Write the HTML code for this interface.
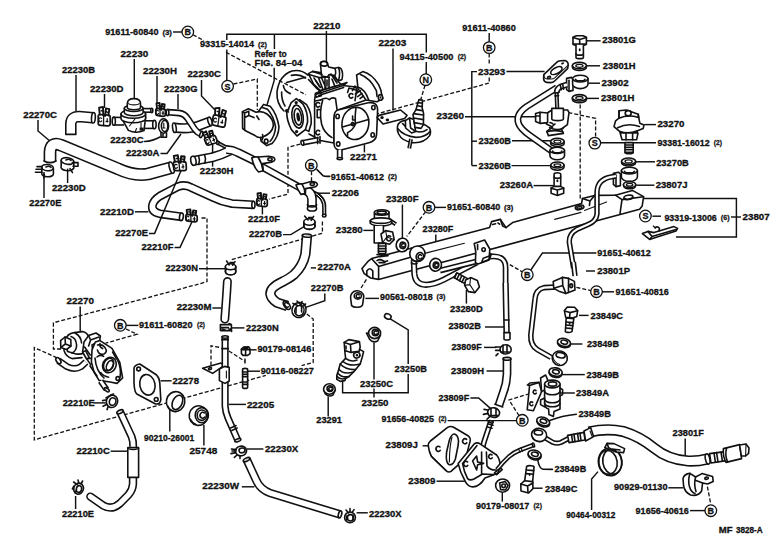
<!DOCTYPE html>
<html><head><meta charset="utf-8"><title>Fuel injection system diagram</title>
<style>
html,body{margin:0;padding:0;background:#fff}
svg{display:block}
text{font-family:"Liberation Sans",sans-serif;font-weight:bold;fill:#111;stroke:#111;stroke-width:0.3px;stroke-linejoin:round}
.ln{stroke:#111;stroke-width:1.45;fill:none}
.o{stroke:#111;stroke-width:1.6;fill:#fff;stroke-linejoin:round;stroke-linecap:round}
.n{stroke:#111;stroke-width:1.6;fill:none;stroke-linejoin:round;stroke-linecap:round}
.t{stroke:#111;stroke-width:1.1;fill:none;stroke-linejoin:round;stroke-linecap:round}
.d{stroke:#111;stroke-width:1.3;fill:none;stroke-dasharray:4 2}
.k{fill:#111;stroke:none}
.hb{stroke:#111;fill:none;stroke-linejoin:round}
.hw{stroke:#fff;fill:none;stroke-linejoin:round}
</style></head><body>
<svg width="782" height="560" viewBox="0 0 782 560">
<rect width="782" height="560" fill="#fff"/>
<!-- r1.svg -->
<line x1="173.0" y1="32.0" x2="182.5" y2="32.0" class="ln"/>
<line x1="134.3" y1="59.0" x2="134.3" y2="99.0" class="ln"/>
<line x1="76.0" y1="75.0" x2="76.0" y2="111.0" class="ln"/>
<line x1="157.0" y1="76.0" x2="157.0" y2="103.0" class="ln"/>
<line x1="104.5" y1="94.0" x2="104.5" y2="108.0" class="ln"/>
<line x1="178.0" y1="94.0" x2="178.0" y2="109.0" class="ln"/>
<polyline points="201.5,80.0 201.5,96.0 215.0,110.0" class="ln"/>
<polyline points="38.0,120.0 38.0,131.0 51.0,142.0" class="ln"/>
<path d="M144.5 141.5 Q153 141 160 137" class="n"/>
<polyline points="160.5,153.5 167.0,153.5 181.0,134.0" class="ln"/>
<line x1="67.6" y1="168.6" x2="67.6" y2="183.0" class="ln"/>
<line x1="44.0" y1="172.0" x2="44.0" y2="198.0" class="ln"/>
<line x1="193.0" y1="34.8" x2="204.0" y2="40.6" class="d"/>
<line x1="226.0" y1="52.3" x2="306.0" y2="94.8" class="d"/>
<path d="M70.8 134.5 V124 Q71 116.5 79 116.5 L93 117.8" class="hb" stroke-width="11.6" stroke-linecap="butt"/><path d="M70.8 134.5 V124 Q71 116.5 79 116.5 L93 117.8" class="hw" stroke-width="8.4" stroke-linecap="butt"/>
<ellipse cx="93.4" cy="117.8" rx="1.9" ry="5.2" class="o" transform="rotate(4.0 93.4 117.8)"/>
<line x1="65.8" y1="134.4" x2="75.8" y2="134.4" class="n"/>
<g transform="translate(104.2 116.4) rotate(0.0)"><path d="M-6.0 0.1 Q-6.0 -1.9 -4.0 -1.9 L4.0 -1.3 Q6.0 -1.3 6.0 0.7 L6.0 7.1 Q6.0 9.5 3.6 9.5 L-3.6 8.9 Q-6.0 8.9 -6.0 6.5 z" class="o" style="stroke-width:1.7"/><path d="M-0.6 -1.5 V9.1" class="n" style="stroke-width:1.3"/><path d="M-2.7 1.9 a1.6 2 0 1 0 0.2 2.6 M3.0 2.3 v3.4 M1.8 4.9 h2" class="n" style="stroke-width:1.2"/><path d="M-4.5 -1.9 L-5.1 -8.7 L-1.2 -9.5 L-0.9 -0.9 M0.9 -0.4 L1.8 -8.0 L5.1 -7.2 L4.2 -0.9" class="n" style="stroke-width:1.9"/><path d="M-3.0 -5.7 L-0.6 -5.3 M1.8 -4.8 L4.2 -3.8" class="n" style="stroke-width:1.4"/></g>
<path d="M113.5 121.2 H124" class="hb" stroke-width="9.2" stroke-linecap="butt"/><path d="M113.5 121.2 H124" class="hw" stroke-width="6.0" stroke-linecap="butt"/>
<ellipse cx="113.8" cy="121.2" rx="1.6" ry="4.1" class="o"/>
<path d="M143 124.6 H154.6" class="hb" stroke-width="9.2" stroke-linecap="butt"/><path d="M143 124.6 H154.6" class="hw" stroke-width="6.0" stroke-linecap="butt"/>
<ellipse cx="154.4" cy="124.6" rx="1.7" ry="4.2" class="o"/>
<path d="M140 110.4 H151.6" class="hb" stroke-width="5.2" stroke-linecap="butt"/><path d="M140 110.4 H151.6" class="hw" stroke-width="2.0" stroke-linecap="butt"/>
<ellipse cx="151.8" cy="110.4" rx="1.0" ry="2.2" class="o"/>
<path d="M121.5 118 L128.4 130.4 Q136 134 144 130.6 L145.6 117z" class="o"/>
<path d="M121 114 v4.5 a12.3 4.2 0 0 0 24.6 0 v-4.5z" class="o"/>
<ellipse cx="133.3" cy="114.0" rx="12.3" ry="4.2" class="o"/>
<path d="M124.3 108.3 v4.2 a9.4 3.2 0 0 0 18.8 0 v-4.2z" class="o"/>
<ellipse cx="133.7" cy="108.3" rx="9.4" ry="3.2" class="o"/>
<path d="M127.3 107.5 V103.5 Q127.5 98.6 133.9 98.6 Q140.4 98.6 140.5 103.5 V107.5 a6.6 2.2 0 0 1 -13.2 0z" class="o"/>
<path d="M128.6 103.3 a5.3 1.6 0 0 0 10.6 0" class="t"/>
<path d="M129.5 126 l5.5 -7 M141 128 v-5 M135 132.5 l1.5 -4" class="t"/>
<path d="M139.6 127.6 h4 v3 h-4z" class="k"/>
<g transform="translate(160.6 109.6) rotate(0.0)"><path d="M-4.8 0.7 Q-4.8 -1.3 -2.8 -1.3 L2.8 -0.7 Q4.8 -0.7 4.8 1.3 L4.8 4.3 Q4.8 6.7 2.4 6.7 L-2.4 6.1 Q-4.8 6.1 -4.8 3.7 z" class="o" style="stroke-width:1.7"/><path d="M-0.6 -0.9 V6.3" class="n" style="stroke-width:1.3"/><path d="M-2.2 1.3 a1.6 2 0 1 0 0.2 2.6 M2.4 1.6 v3.4 M1.4 3.5 h2" class="n" style="stroke-width:1.2"/><path d="M-3.6 -1.3 L-4.1 -6.2 L-1.0 -6.7 L-0.7 -0.3 M0.7 0.2 L1.4 -5.6 L4.1 -5.1 L3.4 -0.3" class="n" style="stroke-width:1.9"/><path d="M-2.4 -4.0 L-0.5 -3.8 M1.4 -3.4 L3.4 -2.7" class="n" style="stroke-width:1.4"/></g>
<ellipse cx="163.6" cy="126.0" rx="5.0" ry="7.2" class="o"/>
<ellipse cx="164.6" cy="126.0" rx="3.2" ry="5.6" class="n"/>
<path d="M161 132.5 v4.8 h5.5 v-4.5 M163 134 v2" class="n"/>
<path d="M163.8 123 v5 M162.8 128 h2.2" class="t"/>
<path d="M174.2 127.6 Q189 129.6 198 126 L210 121.4" class="hb" stroke-width="10.2" stroke-linecap="butt"/><path d="M174.2 127.6 Q189 129.6 198 126 L210 121.4" class="hw" stroke-width="7.0" stroke-linecap="butt"/>
<ellipse cx="174.4" cy="127.8" rx="1.8" ry="4.8" class="o" transform="rotate(-8.0 174.4 127.8)"/>
<ellipse cx="210.0" cy="121.4" rx="1.9" ry="4.4" class="o" transform="rotate(-18.0 210.0 121.4)"/>
<path d="M168 112.2 L179 113 Q184.6 113.6 188 119 L194.6 129 Q197 132.6 201.4 134.2" class="hb" stroke-width="6.8" stroke-linecap="butt"/><path d="M168 112.2 L179 113 Q184.6 113.6 188 119 L194.6 129 Q197 132.6 201.4 134.2" class="hw" stroke-width="3.6" stroke-linecap="butt"/>
<ellipse cx="167.6" cy="112.6" rx="1.3" ry="3.2" class="o"/>
<ellipse cx="201.3" cy="134.5" rx="1.4" ry="3.2" class="o" transform="rotate(20.0 201.3 134.5)"/>
<g transform="translate(219.6 117.4) rotate(8.0)"><path d="M-6.5 0.1 Q-6.5 -1.9 -4.5 -1.9 L4.5 -1.3 Q6.5 -1.3 6.5 0.7 L6.5 6.9 Q6.5 9.3 4.1 9.3 L-4.1 8.7 Q-6.5 8.7 -6.5 6.3 z" class="o" style="stroke-width:1.7"/><path d="M-0.6 -1.5 V8.9" class="n" style="stroke-width:1.3"/><path d="M-2.9 1.9 a1.6 2 0 1 0 0.2 2.6 M3.2 2.2 v3.4 M1.9 4.8 h2" class="n" style="stroke-width:1.2"/><path d="M-4.9 -1.9 L-5.5 -8.6 L-1.3 -9.3 L-1.0 -0.9 M1.0 -0.4 L1.9 -7.8 L5.5 -7.1 L4.5 -0.9" class="n" style="stroke-width:1.9"/><path d="M-3.2 -5.6 L-0.7 -5.2 M1.9 -4.7 L4.5 -3.7" class="n" style="stroke-width:1.4"/></g>
<g transform="translate(209.8 137.6) rotate(-22.0)"><path d="M-5.7 0.6 Q-5.7 -1.4 -3.7 -1.4 L3.7 -0.8 Q5.7 -0.8 5.7 1.2 L5.7 4.8 Q5.7 7.2 3.3 7.2 L-3.3 6.6 Q-5.7 6.6 -5.7 4.2 z" class="o" style="stroke-width:1.7"/><path d="M-0.6 -1.0 V6.8" class="n" style="stroke-width:1.3"/><path d="M-2.6 1.4 a1.6 2 0 1 0 0.2 2.6 M2.9 1.7 v3.4 M1.7 3.7 h2" class="n" style="stroke-width:1.2"/><path d="M-4.3 -1.4 L-4.8 -6.6 L-1.1 -7.2 L-0.9 -0.4 M0.9 0.1 L1.7 -6.0 L4.8 -5.5 L4.0 -0.4" class="n" style="stroke-width:1.9"/><path d="M-2.9 -4.3 L-0.6 -4.0 M1.7 -3.6 L4.0 -2.9" class="n" style="stroke-width:1.4"/></g>
<path d="M50 161.4 V152 Q50.6 141.2 61 145.2 L118 168.8 Q134 176.4 148 174 L171.6 167.6" class="hb" stroke-width="12.8" stroke-linecap="butt"/><path d="M50 161.4 V152 Q50.6 141.2 61 145.2 L118 168.8 Q134 176.4 148 174 L171.6 167.6" class="hw" stroke-width="9.6" stroke-linecap="butt"/>
<ellipse cx="171.6" cy="167.6" rx="2.1" ry="5.8" class="o" transform="rotate(-16.0 171.6 167.6)"/>
<path d="M44 161 q6 3.6 12 0" class="n"/>
<ellipse cx="67.5" cy="161.0" rx="6.4" ry="3.3" class="o" transform="rotate(8.0 67.5 161.0)"/>
<path d="M61.2 160.4 v6 a6.4 3.3 0 0 0 12.6 1.8 v-6.2" class="n"/>
<path d="M72.4 162.6 h5.6 v3.6 h-5 M70 168.6 l2.5 4 M66 160 q3 -1.6 5 0.4" class="n"/>
<ellipse cx="47.5" cy="167.6" rx="5.8" ry="3.1" class="o" transform="rotate(5.0 47.5 167.6)"/>
<path d="M41.8 167.4 v5.8 a5.8 3.1 0 0 0 11.6 0.8 v-5.8" class="n"/>
<path d="M42 169.2 h-6 M42 172.2 h-6.6 M37 166.6 h5 M44 174 v4 M46 167 q3 -1.6 5 0.4" class="n"/>
<!-- r2.svg -->
<polyline points="226.8,80.5 226.8,49.5" class="ln"/>
<polyline points="226.8,40.0 226.8,34.3 426.3,34.3 426.3,52.5" class="ln"/>
<line x1="426.3" y1="62.0" x2="426.2" y2="74.3" class="ln"/>
<line x1="274.4" y1="34.3" x2="274.4" y2="49.0" class="ln"/>
<polyline points="274.2,67.8 274.2,80.5 267.0,105.0" class="ln"/>
<line x1="326.4" y1="31.0" x2="326.4" y2="62.5" class="ln"/>
<line x1="393.0" y1="48.5" x2="393.0" y2="110.5" class="ln"/>
<polyline points="233.5,84.0 257.3,79.0 257.3,110.0" class="d"/>
<line x1="425.0" y1="85.3" x2="420.8" y2="99.5" class="d"/>
<line x1="489.2" y1="33.0" x2="489.2" y2="42.3" class="ln"/>
<line x1="489.2" y1="53.6" x2="489.2" y2="65.6" class="d"/>
<polyline points="489.2,77.4 489.2,83.0 376.5,114.0" class="d"/>
<path d="M263.6 104.4 L270.2 106.2 Q277 114 279 126.8 Q278.5 137 272 143.6 L266.8 145.6 L261 141 L258 112z" class="o"/>
<path d="M262.3 107.5 L267.5 109.3 Q273.6 116 275.6 127 Q275 136 270 141.5" class="n"/>
<path d="M242.4 111.6 L248.4 108.8 L256 112.2 Q262 110.5 267 114 Q273.6 119 273.3 126 Q272 133.5 262.6 137 Q258 138.5 255 135.5 L246 131 L242.6 128.5z" class="o"/>
<path d="M242.6 112 L244.6 113 V129.6 M244.6 113 L248.8 111.2 V115.6 L254 117.6 M248.8 115.6 L244.8 117.4 M256.8 116 L259 119.5" class="n"/>
<ellipse cx="266.2" cy="141.2" rx="1.8" ry="2.1" class="o"/>
<path d="M262.6 134.6 Q263.4 137.8 262 140" class="n"/>
<path d="M308 75.2 Q301 69 292 71 Q279 75.5 277 92 Q276.4 104 284 111" class="n"/>
<path d="M305.5 78 Q299 73.6 291.4 75.4" class="n"/>
<path d="M283.4 85.6 Q284 91 290 93.4 M286.6 82.6 L305.5 77.2" class="n"/>
<ellipse cx="286.6" cy="110.8" rx="1.6" ry="1.9" class="k"/>
<path d="M281.6 92 Q281.4 100 285 106" class="n"/>
<path d="M288.6 93.6 l2.2 -1.2 l-0.4 2.4z" class="k"/>
<path d="M315.4 94.5 L343 85.5 L360 87.5 L366 100 L338 110 L334 118 V143 L320 140.5 L314.6 137 V100z" class="o"/>
<path d="M315.4 94.5 L319.6 91 L347 82.5 L343 85.5 M319.8 91 L317 88.6 L308.5 79.5" class="n"/>
<path d="M320.5 100 Q326 96.6 329.4 99.6 Q332 97 335.5 98.4 L337 109.4" class="n"/>
<path d="M322.6 100.6 Q319 112 321.6 124 Q324 133 332 137.6" class="n"/>
<path d="M315 101 L320.5 100 M314.6 137 L309 134 M318.6 95.6 L343.6 87.6 M315.4 93.2 l5.4 -1.4 l0.6 4 l-5.4 1.4z" class="n"/>
<path d="M319.6 103.3 a2.1 2.3 0 1 0 0 3" class="n"/>
<path d="M319.6 131.1 a2.1 2.3 0 1 0 0 3" class="n"/>
<path d="M352.8 94.3 a2.1 2.3 0 1 0 0 3" class="n"/>
<path d="M319.6 109.6 h-2.4 v8 h2.4" class="n"/>
<path d="M308.4 73.6 L312.6 71.4 L320 72.6 L329.6 72 L334 76.6 L341 84.5 L333 86.8 L320 90.4 L313.6 84z" class="o"/>
<path d="M320.4 63.6 a3.6 2.6 0 0 1 7.2 0.4 L328.6 67 L335 68.4 Q338.6 66.6 341 68.6 Q343.6 73 342 79.4 Q339.6 81.6 336.6 79 L334.6 75.6 L329 74.6 L327.4 77 L321.6 76z" class="o"/>
<ellipse cx="324.0" cy="63.8" rx="3.5" ry="2.3" class="n" transform="rotate(6.0 324.0 63.8)"/>
<path d="M335 68.4 Q336.6 74 334.6 75.6 M338.6 67.6 Q340.6 73 338.6 80" class="n"/>
<path d="M309 74.6 L319 77.6 L329.4 77 M312.6 71.4 L322 74.6 M318.6 78 L322.6 88.6 M321.6 78 L326 88 M325 77.6 V88.6 M329 77.4 V87.6 M332 79 l3 7.6 M314 78 l6.4 9.4" class="n"/>
<path d="M316 81 l3.6 5.6 M327 80 v6 M331 74 l6 9" class="n"/>
<path d="M356.6 75 L362.8 71.6 Q372 74 378.6 84.6 Q381.4 90 381.8 95 L383 98.6 L377 101.8 L366 100 L358 88.6z" class="o"/>
<path d="M360.4 74.6 Q370 78 376.4 90.6 L377 96.4 M357.6 87 Q365 89 368.6 99.8" class="n"/>
<ellipse cx="380.4" cy="97.4" rx="2.1" ry="2.8" class="o"/>
<ellipse cx="380.4" cy="97.4" rx="0.8" ry="1.2" class="k"/>
<path d="M352.4 90.6 L355 86 L358 92 M355.4 94 l5 -3.4 M357.6 96.6 l4.4 -3.2 M360 98.6 l3.4 -2.6" class="n"/>
<path d="M347.6 92.4 L349 88 L356.6 90.2 L355 100.6" class="n"/>
<path d="M296.4 98.6 L302.8 103.8 Q308 112 307.6 122 L305.4 129.6 L297 136 L291.4 129.6 Q286.6 120 286.8 112.8 L291.2 102.6z" class="o"/>
<path d="M299.6 99.6 L306.6 104.6 Q312 113 311.2 123.6 L308.8 131.4 L305.4 129.6" class="n"/>
<ellipse cx="297.6" cy="116.6" rx="5.6" ry="11.6" class="o" transform="rotate(-8.0 297.6 116.6)"/>
<ellipse cx="297.9" cy="116.8" rx="3.6" ry="8.4" class="o" transform="rotate(-8.0 297.9 116.8)"/>
<ellipse cx="298.2" cy="117.0" rx="1.7" ry="4.6" class="k" transform="rotate(-8.0 298.2 117.0)"/>
<ellipse cx="296.2" cy="102.6" rx="0.9" ry="0.9" class="o"/>
<ellipse cx="296.6" cy="131.6" rx="0.9" ry="0.9" class="o"/>
<path d="M288.6 109.4 l-1.6 1.4 l1.4 1.2" class="n"/>
<path d="M302.4 142.8 L319 139.6" class="hb" stroke-width="5.8" stroke-linecap="butt"/><path d="M302.4 142.8 L319 139.6" class="hw" stroke-width="2.6" stroke-linecap="butt"/>
<ellipse cx="302.4" cy="142.8" rx="1.4" ry="2.4" class="o" transform="rotate(-10.0 302.4 142.8)"/>
<path d="M317.6 137.2 v6.4 M320 136.6 v6.6" class="n"/>
<polyline points="300.2,144.2 288.0,147.4 288.0,183.0" class="d"/>
<path d="M338 110 L368.2 102.8 Q377.4 101.4 377.6 110 L376.6 134.4 Q376.2 141 369 142.8 L342 149.8 Q334.4 150.8 334 144 V118 Q334 111 338 110z" class="o"/>
<ellipse cx="355.4" cy="123.4" rx="13.4" ry="16.2" class="o" transform="rotate(8.0 355.4 123.4)"/>
<ellipse cx="337.6" cy="116.4" rx="1.7" ry="2.1" class="o"/>
<ellipse cx="373.4" cy="107.6" rx="1.7" ry="2.1" class="o"/>
<ellipse cx="338.2" cy="144.0" rx="1.7" ry="2.1" class="o"/>
<ellipse cx="372.7" cy="134.9" rx="1.7" ry="2.1" class="o"/>
<path d="M342.4 127 L368.6 119.6 M356 107.6 Q354.6 118 355.6 124 Q353 130 347.6 132.6 L347.4 137" class="n"/>
<path d="M352.6 116 v4 h2.4 M352.6 122.6 a1.5 1.5 0 1 0 0.1 0" class="n"/>
<path d="M339.8 149.6 V158.6" class="hb" stroke-width="6.0" stroke-linecap="butt"/><path d="M339.8 149.6 V158.6" class="hw" stroke-width="2.8" stroke-linecap="butt"/>
<ellipse cx="339.8" cy="158.6" rx="2.7" ry="1.1" class="o"/>
<line x1="364.4" y1="144.4" x2="364.4" y2="152.4" class="ln"/>
<path d="M377 117.4 L379 115.4 L400.6 110 L407 115.4 L404.6 118.4 L383 124z" class="o"/>
<ellipse cx="382.0" cy="117.6" rx="1.0" ry="0.7" class="o"/>
<ellipse cx="387.4" cy="120.0" rx="1.0" ry="0.6" class="o"/>
<path d="M397.4 127 Q398 121 406 120.4 Q420 120.6 429.6 128 Q431.4 131.6 429.6 135.6 Q424 143.6 412 142.6 Q402 141 398.6 134 Q397 130.6 397.4 127z" class="o"/>
<path d="M397.6 128.6 Q404 136.4 416 137.4 Q425.6 137.4 430 131.6 M402.6 123.6 Q408 130.6 419 132 Q424 132 427 129.6" class="n"/>
<path d="M411 139 L409.2 148.4" class="hb" stroke-width="4.0" stroke-linecap="butt"/><path d="M411 139 L409.2 148.4" class="hw" stroke-width="0.8" stroke-linecap="butt"/>
<path d="M405.4 120.6 L409.6 118 L414 119.6 L415.6 131.6 L411.6 133 L405.6 128z" class="o"/>
<path d="M419 99.6 L422.4 100 L422.2 108 L423.6 113.6 L423.4 124.6 L421 128.4 L415 127.4 L413 114.6 L416 109.6 L417.6 104z" class="o"/>
<path d="M418.4 102.6 l4 0.6 M417.4 105.8 l4.8 0.8 M416 109.6 l6.4 1 M413.6 113.6 l9.8 1.4 M413.4 118 l10 1.6 M414 122.6 l9.4 1.6" class="n"/>
<path d="M409.6 118 l1 10 l5 3.4" class="n"/>
<!-- r3.svg -->
<line x1="586.8" y1="40.8" x2="600.6" y2="40.8" class="ln"/>
<line x1="587.0" y1="65.8" x2="600.0" y2="65.8" class="ln"/>
<line x1="588.4" y1="83.2" x2="600.0" y2="83.2" class="ln"/>
<line x1="587.0" y1="98.4" x2="599.0" y2="98.4" class="ln"/>
<line x1="644.4" y1="124.6" x2="656.0" y2="124.6" class="ln"/>
<polyline points="471.8,165.6 471.8,71.6 477.0,71.6" class="ln"/>
<line x1="471.8" y1="141.2" x2="477.0" y2="141.2" class="ln"/>
<line x1="471.8" y1="165.6" x2="477.0" y2="165.6" class="ln"/>
<line x1="506.4" y1="71.4" x2="544.6" y2="71.4" class="ln"/>
<line x1="465.0" y1="116.8" x2="535.6" y2="116.8" class="ln"/>
<line x1="512.0" y1="140.8" x2="550.6" y2="140.8" class="ln"/>
<line x1="512.0" y1="165.6" x2="550.2" y2="165.6" class="t"/>
<line x1="533.6" y1="185.6" x2="553.6" y2="185.6" class="ln"/>
<line x1="600.8" y1="142.8" x2="656.0" y2="142.8" class="ln"/>
<line x1="636.0" y1="161.8" x2="655.0" y2="161.8" class="ln"/>
<line x1="636.4" y1="185.2" x2="654.4" y2="185.2" class="ln"/>
<line x1="580.2" y1="104.6" x2="580.2" y2="200.6" class="d"/>
<polyline points="568.4,112.6 595.6,118.4 595.6,137.2" class="d"/>
<path d="M557 87.6 L527 106.4 Q515.6 114 518.4 123 Q520 128.6 530 135.6 L552.6 151.6" class="hb" stroke-width="7.0" stroke-linecap="butt"/><path d="M557 87.6 L527 106.4 Q515.6 114 518.4 123 Q520 128.6 530 135.6 L552.6 151.6" class="hw" stroke-width="3.8" stroke-linecap="butt"/>
<path d="M543.8 74.6 L556.4 62.6 Q558 61 560.4 60.8 L565 60.6 Q568.4 61.6 568.2 65.4 L567.6 68.6 L554.6 81 Q553 82.6 550.6 82.6 L546.6 82.4 Q543.6 81.6 543.6 78.6z" class="o"/>
<path d="M543.8 75 Q544 78.6 547 79 L551.4 79 Q553.4 79 555 77.6 L568 65.4" class="t"/>
<ellipse cx="556.4" cy="70.6" rx="6.2" ry="3.0" class="o" transform="rotate(-28.0 556.4 70.6)"/>
<ellipse cx="562.6" cy="63.4" rx="1.6" ry="1.0" class="k" transform="rotate(-20.0 562.6 63.4)"/>
<ellipse cx="549.0" cy="77.4" rx="1.6" ry="1.0" class="o" transform="rotate(-20.0 549.0 77.4)"/>
<path d="M573.0 37.3 L576.4 35.8 L583.1 35.8 L586.4 37.3 L586.4 44.0 L573.0 44.0 z" class="o"/>
<path d="M573.0 37.6 L579.7 39.4 L586.4 37.6 M579.7 39.4 V44.0" class="n"/>
<path d="M573.0 44.0 a6.7 1.6 0 0 0 13.4 0" class="n"/>
<path d="M576.0 45.0 V57.4 a3.7 1.2 0 0 0 7.4 0 V45.0" class="o"/>
<ellipse cx="579.7" cy="49.7" rx="1.0" ry="1.5" class="k"/>
<path d="M576.0 53.9 a3.7 1.2 0 0 0 7.4 0" class="n"/>
<g><path d="M572.4 65.6 v1.6 a7.0 3.2 0 0 0 14.0 0 v-1.6" class="o"/><ellipse cx="579.4" cy="65.6" rx="7.0" ry="3.2" class="o"/><ellipse cx="579.4" cy="65.8" rx="3.6" ry="1.5" class="o" style="stroke-width:1.3"/></g>
<g><path d="M572.4 97.8 v1.6 a7.0 3.2 0 0 0 14.0 0 v-1.6" class="o"/><ellipse cx="579.4" cy="97.8" rx="7.0" ry="3.2" class="o"/><ellipse cx="579.4" cy="98.0" rx="3.6" ry="1.5" class="o" style="stroke-width:1.3"/></g>
<path d="M566.6 78.4 L571.4 77.4 L573 79 V90.4 L569 91.4 L566.6 89.6z" class="o"/>
<path d="M569 80.2 V91.2" class="n"/>
<path d="M572.6 78.6 v5.6 a7.7 4.4 0 0 0 15.4 0 v-5.6 z" class="o"/>
<ellipse cx="580.3" cy="78.6" rx="7.7" ry="3.4" class="o"/>
<path d="M575.5 79.2 a4.8 2.0 0 0 0 9.5 0" class="n"/>
<path d="M567 84.6 L560.6 86.6 Q556.6 88.6 556.8 93" class="hb" stroke-width="6.0" stroke-linecap="butt"/><path d="M567 84.6 L560.6 86.6 Q556.6 88.6 556.8 93" class="hw" stroke-width="2.8" stroke-linecap="butt"/>
<path d="M562.6 83.8 l1 5.4 M560.2 84.8 l1.2 5" class="n"/>
<path d="M556.6 92.6 L557.2 108.6" class="hb" stroke-width="4.2" stroke-linecap="butt"/><path d="M556.6 92.6 L557.2 108.6" class="hw" stroke-width="1.0" stroke-linecap="butt"/>
<path d="M555 93 l3.6 -0.4 M555 96 l3.6 -0.4" class="n"/>
<path d="M546 113.8 L552 110 L567.6 110 L569 112.4 L567.4 124.6 L561.4 129 L563.4 133.4 L548.4 135.6 L546.8 131.4 L552.6 127 L546.4 124z" class="o"/>
<path d="M551.8 108.4 H563.4 V119 a5.8 1.6 0 0 1 -11.6 0z" class="o"/>
<path d="M535.6 113.4 L540 112.2 L547.6 113 V122.6 L540.4 123.4 L535.6 121.4z" class="o"/>
<path d="M540 112.4 V123.2 M535.6 116 h4.4" class="n"/>
<path d="M549.6 127.6 Q556 131 563 128.4 M550 122.6 l2.6 1 M553 125.4 l2 -1.4" class="n"/>
<path d="M547 131.6 Q555 129.6 562.6 131.8" class="n"/>
<g><path d="M550.7 141.4 v2.0 a6.7 3.1 0 0 0 13.4 0 v-2.0" class="o"/><ellipse cx="557.4" cy="141.4" rx="6.7" ry="3.1" class="o"/><ellipse cx="557.4" cy="141.6" rx="3.5" ry="1.5" class="o" style="stroke-width:1.3"/></g>
<path d="M549.9 150.4 v5.4 a7.3 4.0 0 0 0 14.6 0 v-5.4 z" class="o"/>
<ellipse cx="557.2" cy="150.4" rx="7.3" ry="3.1" class="o"/>
<path d="M552.7 151.0 a4.5 1.9 0 0 0 9.1 0" class="n"/>
<g><path d="M550.8 165.0 v2.2 a6.6 3.0 0 0 0 13.2 0 v-2.2" class="o"/><ellipse cx="557.4" cy="165.0" rx="6.6" ry="3.0" class="o"/><ellipse cx="557.4" cy="165.2" rx="3.4" ry="1.4" class="o" style="stroke-width:1.3"/></g>
<path d="M554.1 186.4 V174.0 a3.3 1.2 0 0 1 6.6 0 V186.4" class="o"/>
<ellipse cx="557.4" cy="180.8" rx="1.0" ry="1.5" class="k"/>
<path d="M554.1 177.1 a3.3 1.2 0 0 0 6.6 0" class="n"/>
<path d="M551.1 187.9 L554.2 186.4 L560.5 186.4 L563.7 187.9 L563.7 193.3 L557.4 195.4 L551.1 193.3 z" class="o"/>
<path d="M551.1 188.2 L557.4 190.0 L563.7 188.2 M557.4 190.0 V195.2" class="n"/>
<path d="M619 110.8 L626.4 110 L638.2 114.2 L639.8 123.2 L644 125 L643.2 128.4 L637.4 130.8 L637 133 H620.6 L619.8 131.6 L614 126.6 L615.6 120.8 L619 118.2z" class="o"/>
<path d="M619 118.2 Q628 114.2 638.4 117.4 M617.6 127.8 Q628 122.4 639.4 126.4 M620 131.6 Q628.6 134.6 637.4 130.8 M619 110.8 V118 M638.2 114.2 l0.4 3.4" class="n"/>
<ellipse cx="628.2" cy="113.2" rx="3.0" ry="2.6" class="o"/>
<path d="M620.2 133 H638 L636.6 139.8 H622z" class="o"/>
<path d="M626 133.4 v6.4 M632.6 133.4 v6.4" class="n"/>
<path d="M625 142.6 h8.2 v10 a4.1 1.2 0 0 1 -8.2 0z" class="o"/>
<path d="M625 145 h8.2 M625 147.4 h8.2 M625 149.8 h8.2 M625 152.2 h8.2" class="n"/>
<g><path d="M621.6 161.2 v1.6 a7.0 3.2 0 0 0 14.0 0 v-1.6" class="o"/><ellipse cx="628.6" cy="161.2" rx="7.0" ry="3.2" class="o"/><ellipse cx="628.6" cy="161.4" rx="3.6" ry="1.5" class="o" style="stroke-width:1.3"/></g>
<path d="M613.4 173.4 L618.4 172.2 L620.4 174 V185.6 L616 186.6 L613.4 184.4z" class="o"/>
<path d="M616 175 V186.4" class="n"/>
<path d="M621.4 170.6 v6.4 a8.0 4.4 0 0 0 16.0 0 v-6.4 z" class="o"/>
<ellipse cx="629.4" cy="170.6" rx="8.0" ry="3.4" class="o"/>
<path d="M624.4 171.2 a5.0 2.0 0 0 0 9.9 0" class="n"/>
<g><path d="M623.5 184.6 v1.2 a6.1 3.0 0 0 0 12.2 0 v-1.2" class="o"/><ellipse cx="629.6" cy="184.6" rx="6.1" ry="3.0" class="o"/><ellipse cx="629.6" cy="184.8" rx="3.2" ry="1.4" class="o" style="stroke-width:1.3"/></g>
<!-- r4.svg -->
<line x1="363.4" y1="230.4" x2="373.4" y2="230.4" class="ln"/>
<line x1="402.4" y1="204.6" x2="402.4" y2="238.4" class="ln"/>
<line x1="435.8" y1="234.4" x2="435.8" y2="258.6" class="ln"/>
<line x1="434.6" y1="207.4" x2="446.0" y2="207.4" class="ln"/>
<line x1="425.6" y1="211.8" x2="406.8" y2="236.4" class="d"/>
<polyline points="596.4,253.0 542.4,253.0 530.8,270.0" class="ln"/>
<line x1="586.0" y1="271.0" x2="595.0" y2="271.0" class="ln"/>
<line x1="602.0" y1="291.8" x2="614.0" y2="291.8" class="ln"/>
<line x1="652.4" y1="216.2" x2="661.0" y2="216.2" class="ln"/>
<line x1="653.0" y1="225.6" x2="656.6" y2="229.4" class="d"/>
<polyline points="643.6,198.4 736.4,198.4 736.4,237.0 676.0,237.0" class="ln"/>
<line x1="731.0" y1="217.0" x2="741.0" y2="217.0" class="ln"/>
<line x1="483.8" y1="249.6" x2="522.6" y2="272.0" class="d"/>
<path d="M371.6 258.6 L489.6 227.6 L491.6 221.6 L500.4 219.4 L506 227.6 L512.6 222.6 L581.6 203.4 L582.4 198.6 L594.6 195.4 L615.4 195.2 L632.4 190.4 L643.6 196.6 L642.2 206 L639.6 209.2 L378.6 279.4 L370.6 278 L364.2 273.6 L362 268.6 L368.6 260.8z" class="o"/>
<path d="M372.1 259.3 L378.6 266.4 V279.2 M378.6 266.4 L411.4 257" class="n"/>
<path d="M500.4 219.4 L502.6 226 L506 227.6 M492.6 224.6 l3 -0.8 M498 223 l1.6 1.2" class="n"/>
<path d="M424.6 253.4 L464.4 243.2 M554.6 219.4 L581 212.4 M584.4 210.4 L606.6 202" class="t"/>
<path d="M615.4 195.2 L622 199.6 L643.4 196.8 M622 199.6 L620 213.6" class="n"/>
<ellipse cx="579.6" cy="207.4" rx="4.4" ry="2.2" class="o" transform="rotate(-12.0 579.6 207.4)"/>
<ellipse cx="579.4" cy="207.8" rx="2.6" ry="1.1" class="o" transform="rotate(-12.0 579.4 207.8)"/>
<ellipse cx="628.4" cy="197.4" rx="4.6" ry="2.1" class="o" transform="rotate(-10.0 628.4 197.4)"/>
<path d="M624.6 198.6 q4 1.6 8 -1" class="n"/>
<path d="M582.4 198.6 L590 201 L594.6 195.4 M590 201 l-0.6 4.4" class="n"/>
<path d="M366.8 275.6 V271 Q369.8 266.6 372.8 271 V278" class="n"/>
<path d="M377 260.6 q3 -2 6 0 q2 1.6 4.6 0.2 M379 262.6 h6" class="n"/>
<line x1="366.4" y1="279.4" x2="360.0" y2="289.6" class="d"/>
<path d="M350.6 298 a6.6 6.4 0 0 1 13.2 -1.6 L362.6 304.6 a5.8 3 0 0 1 -11 1z" class="o"/>
<ellipse cx="357.8" cy="296.0" rx="3.6" ry="3.2" class="n"/>
<path d="M359.2 294.8 a1.8 1.8 0 1 0 0.2 2.4" class="n"/>
<line x1="365.4" y1="298.4" x2="379.0" y2="298.4" class="ln"/>
<path d="M388.6 219.6 L395.8 224.2" class="hb" stroke-width="4.2" stroke-linecap="butt"/><path d="M388.6 219.6 L395.8 224.2" class="hw" stroke-width="1.0" stroke-linecap="butt"/>
<path d="M374.4 212.4 V219 H389 V212.4z" class="o"/>
<ellipse cx="381.7" cy="212.4" rx="7.3" ry="2.7" class="o"/>
<ellipse cx="381.7" cy="212.6" rx="4.6" ry="1.5" class="n"/>
<path d="M370.2 220.6 a11 3.4 0 0 1 21.6 0 v2.6 a11 3.4 0 0 1 -21.6 0z" class="o"/>
<path d="M370.2 220.6 a11 3.4 0 0 0 21.6 0" class="n"/>
<path d="M374.2 226 V243 H383.4 V226" class="o"/>
<path d="M381 234 L385.6 230.6 L392.6 232 L394.2 239.6 L389.6 244.2 L382.6 242.6z" class="o"/>
<path d="M390.6 236.6 a2.2 2.6 0 1 0 0.4 2.8" class="n"/>
<path d="M385.6 230.6 L386.8 237 L382.6 242.6 M386.8 237 L394 239.4" class="t"/>
<path d="M378.4 243.4 h7.4 v9 a3.7 1.2 0 0 1 -7.4 0z" class="o"/>
<path d="M378.4 246 h7.4 M378.4 248.6 h7.4 M378.4 251.2 h7.4" class="n"/>
<path d="M377 254.6 h10 M380 256.6 l8 -1" class="n"/>
<ellipse cx="402.4" cy="245.0" rx="6.2" ry="6.8" class="o" transform="rotate(10.0 402.4 245.0)"/>
<ellipse cx="402.8" cy="245.4" rx="2.9" ry="3.2" class="n" transform="rotate(10.0 402.8 245.4)"/>
<path d="M404.2 244 a1.6 1.8 0 1 0 0.2 2.4" class="n"/>
<path d="M413.8 260 L414.4 274 Q415.4 284.6 426 284.8 Q434 284.6 444 279.6 L476.6 262.4" class="hb" stroke-width="6.2" stroke-linecap="butt"/><path d="M413.8 260 L414.4 274 Q415.4 284.6 426 284.8 Q434 284.6 444 279.6 L476.6 262.4" class="hw" stroke-width="3.0" stroke-linecap="butt"/>
<path d="M440 270.6 L476 261.6" class="hb" stroke-width="5.8" stroke-linecap="butt"/><path d="M440 270.6 L476 261.6" class="hw" stroke-width="2.6" stroke-linecap="butt"/>
<ellipse cx="417.4" cy="253.8" rx="7.6" ry="7.8" class="o"/>
<ellipse cx="419.8" cy="256.6" rx="3.6" ry="4.2" class="n" transform="rotate(15.0 419.8 256.6)"/>
<path d="M421.4 255.4 a1.8 2.2 0 1 0 0.2 2.6" class="n"/>
<path d="M411.6 259.4 q2.4 2.4 5.6 1.6 M411.4 263 q2.6 1.6 5.6 0.6" class="n"/>
<ellipse cx="435.6" cy="264.8" rx="5.9" ry="6.4" class="o" transform="rotate(10.0 435.6 264.8)"/>
<ellipse cx="436.0" cy="265.2" rx="2.8" ry="3.1" class="n" transform="rotate(10.0 436.0 265.2)"/>
<path d="M437.4 263.8 a1.6 1.8 0 1 0 0.2 2.4" class="n"/>
<path d="M490 256.6 Q505.6 254.6 505.6 268 V283" class="hb" stroke-width="5.8" stroke-linecap="butt"/><path d="M490 256.6 Q505.6 254.6 505.6 268 V283" class="hw" stroke-width="2.6" stroke-linecap="butt"/>
<path d="M474.2 243.4 L484.6 240 L489.8 249 L489 260 L478 264 L475.4 262.6 L475.8 252z" class="o"/>
<ellipse cx="483.6" cy="249.6" rx="1.7" ry="1.9" class="o"/>
<path d="M477.6 244.6 v5 M481.6 262.6 l8 -3.4 l1.2 -3.6 l-7.6 2.6z" class="n"/>
<path d="M454 277.6 L456.8 272.8 L467.6 278.6 L464.8 283.6z" class="o"/>
<path d="M456.4 273.6 l-1.8 4.4 M459 274.8 l-2.2 4.6 M461.6 276.2 l-2.2 4.6 M464.2 277.6 l-2.2 4.6" class="n"/>
<path d="M465.6 280 L470.6 277.6 L477.4 280.6 L479.4 287 L475 292.6 L468.4 291.6 L464.6 285.4z" class="o"/>
<path d="M470.6 277.6 L469.8 284.6 L464.8 285.4 M469.8 284.6 L474.8 292.2" class="t"/>
<line x1="466.4" y1="290.0" x2="466.4" y2="303.6" class="ln"/>
<path d="M616 176 L611.4 176.8 Q597.4 179 597 192 V214 Q596.4 221 588 224.6 L576.6 229.6 Q568.6 234 569.4 243 L573.6 268" class="hb" stroke-width="5.4" stroke-linecap="butt"/><path d="M616 176 L611.4 176.8 Q597.4 179 597 192 V214 Q596.4 221 588 224.6 L576.6 229.6 Q568.6 234 569.4 243 L573.6 268" class="hw" stroke-width="2.2" stroke-linecap="butt"/>
<line x1="576.4" y1="287.4" x2="591.0" y2="290.6" class="d"/>
<path d="M642.4 233.6 L648 231.4 L654 232.6 L674 226.6 L677.6 228.4 L676 231 L654 238 L649.6 239.4z" class="o"/>
<path d="M648 231.4 L652 236.6 L676 229.6 M652 236.6 L650 239" class="n"/>
<path d="M655 227.6 q2.6 -1.6 4.4 0.6 l-0.4 3" class="n"/>
<!-- r5.svg -->
<line x1="212.6" y1="143.0" x2="212.6" y2="166.6" class="ln"/>
<line x1="135.0" y1="211.8" x2="148.4" y2="211.8" class="ln"/>
<polyline points="174.6,247.4 180.0,247.4 192.0,221.8" class="ln"/>
<line x1="262.4" y1="206.6" x2="262.4" y2="214.4" class="ln"/>
<path d="M317 169.6 L323 175.6 Q324 176.4 329.6 176.4" class="n"/>
<line x1="311.5" y1="171.2" x2="311.5" y2="182.0" class="d"/>
<line x1="316.6" y1="193.2" x2="330.0" y2="193.2" class="ln"/>
<polyline points="283.0,234.6 290.8,234.6 304.0,226.6" class="ln"/>
<line x1="310.8" y1="267.9" x2="316.0" y2="267.9" class="ln"/>
<polyline points="324.8,293.4 324.8,300.8 305.8,307.4" class="ln"/>
<line x1="199.0" y1="268.7" x2="226.0" y2="268.7" class="ln"/>
<line x1="212.4" y1="308.0" x2="221.0" y2="308.0" class="ln"/>
<line x1="231.8" y1="327.9" x2="244.4" y2="327.9" class="ln"/>
<line x1="250.5" y1="349.8" x2="256.6" y2="349.8" class="ln"/>
<polyline points="288.0,183.0 288.0,194.0 269.0,199.0" class="d"/>
<polyline points="201.5,218.0 207.0,218.0 207.0,281.6 196.0,284.8 53.4,322.8 53.4,349.0 66.0,349.0" class="d"/>
<polyline points="231.8,259.6 322.4,233.2 322.4,219.6" class="d"/>
<polyline points="306.8,314.0 313.2,319.0 313.2,362.4 301.6,365.6" class="d"/>
<path d="M181.6 216.8 L160 213.8 Q151.4 212 152.4 205.4 Q153.6 200 160 196 L178 186.6 Q184.6 184 191 187.4 L212 197 Q222 202 232 203.6 L253.4 204.8" class="hb" stroke-width="8.8" stroke-linecap="butt"/><path d="M181.6 216.8 L160 213.8 Q151.4 212 152.4 205.4 Q153.6 200 160 196 L178 186.6 Q184.6 184 191 187.4 L212 197 Q222 202 232 203.6 L253.4 204.8" class="hw" stroke-width="5.6" stroke-linecap="butt"/>
<ellipse cx="181.4" cy="216.8" rx="1.9" ry="3.8" class="o" transform="rotate(8.0 181.4 216.8)"/>
<ellipse cx="253.4" cy="204.8" rx="1.6" ry="3.6" class="o"/>
<polyline points="149.0,233.4 154.6,233.4 181.4,169.8" class="ln"/>
<g transform="translate(179.7 163.0) rotate(-4.0)"><path d="M-6.3 0.4 Q-6.3 -1.6 -4.3 -1.6 L4.3 -1.0 Q6.3 -1.0 6.3 1.0 L6.3 5.6 Q6.3 8.0 3.9 8.0 L-3.9 7.4 Q-6.3 7.4 -6.3 5.0 z" class="o" style="stroke-width:1.7"/><path d="M-0.6 -1.2 V7.6" class="n" style="stroke-width:1.3"/><path d="M-2.8 1.6 a1.6 2 0 1 0 0.2 2.6 M3.1 1.9 v3.4 M1.9 4.2 h2" class="n" style="stroke-width:1.2"/><path d="M-4.7 -1.6 L-5.4 -7.4 L-1.3 -8.0 L-0.9 -0.6 M0.9 -0.1 L1.9 -6.7 L5.4 -6.1 L4.4 -0.6" class="n" style="stroke-width:1.9"/><path d="M-3.1 -4.8 L-0.6 -4.5 M1.9 -4.0 L4.4 -3.2" class="n" style="stroke-width:1.4"/></g>
<g transform="translate(191.5 215.6) rotate(0.0)"><path d="M-5.7 0.8 Q-5.7 -1.2 -3.7 -1.2 L3.7 -0.6 Q5.7 -0.6 5.7 1.4 L5.7 3.8 Q5.7 6.2 3.3 6.2 L-3.3 5.6 Q-5.7 5.6 -5.7 3.2 z" class="o" style="stroke-width:1.7"/><path d="M-0.6 -0.8 V5.8" class="n" style="stroke-width:1.3"/><path d="M-2.6 1.2 a1.6 2 0 1 0 0.2 2.6 M2.9 1.5 v3.4 M1.7 3.2 h2" class="n" style="stroke-width:1.2"/><path d="M-4.3 -1.2 L-4.8 -5.7 L-1.1 -6.2 L-0.9 -0.2 M0.9 0.3 L1.7 -5.2 L4.8 -4.7 L4.0 -0.2" class="n" style="stroke-width:1.9"/><path d="M-2.9 -3.7 L-0.6 -3.5 M1.7 -3.1 L4.0 -2.5" class="n" style="stroke-width:1.4"/></g>
<g transform="translate(262.0 199.8) rotate(0.0)"><path d="M-5.3 0.6 Q-5.3 -1.4 -3.3 -1.4 L3.3 -0.8 Q5.3 -0.8 5.3 1.2 L5.3 4.4 Q5.3 6.8 2.9 6.8 L-2.9 6.2 Q-5.3 6.2 -5.3 3.8 z" class="o" style="stroke-width:1.7"/><path d="M-0.6 -1.0 V6.4" class="n" style="stroke-width:1.3"/><path d="M-2.4 1.4 a1.6 2 0 1 0 0.2 2.6 M2.6 1.6 v3.4 M1.6 3.5 h2" class="n" style="stroke-width:1.2"/><path d="M-4.0 -1.4 L-4.5 -6.3 L-1.1 -6.8 L-0.8 -0.4 M0.8 0.1 L1.6 -5.7 L4.5 -5.2 L3.7 -0.4" class="n" style="stroke-width:1.9"/><path d="M-2.6 -4.1 L-0.5 -3.8 M1.6 -3.4 L3.7 -2.7" class="n" style="stroke-width:1.4"/></g>
<path d="M217.8 142.8 L232 150.6" class="hb" stroke-width="4.0" stroke-linecap="butt"/><path d="M217.8 142.8 L232 150.6" class="hw" stroke-width="0.8" stroke-linecap="butt"/>
<ellipse cx="217.8" cy="142.8" rx="1.1" ry="1.7" class="o" transform="rotate(30.0 217.8 142.8)"/>
<path d="M193.4 160.8 L212 157.4 Q222 154.6 230 150.6" class="hb" stroke-width="10.0" stroke-linecap="butt"/><path d="M193.4 160.8 L212 157.4 Q222 154.6 230 150.6" class="hw" stroke-width="6.8" stroke-linecap="butt"/>
<ellipse cx="193.4" cy="160.8" rx="2.6" ry="4.6" class="o" transform="rotate(-10.0 193.4 160.8)"/>
<path d="M198.6 156 q1.6 4 0.2 8.6 M204.6 154.8 q1.6 4 0.2 8.4" class="n"/>
<path d="M226 149.6 Q232 149.4 238 152.6 L256 161.4" class="hb" stroke-width="9.0" stroke-linecap="butt"/><path d="M226 149.6 Q232 149.4 238 152.6 L256 161.4" class="hw" stroke-width="5.8" stroke-linecap="butt"/>
<path d="M258 164.6 L299.6 187.4" class="hb" stroke-width="7.8" stroke-linecap="butt"/><path d="M258 164.6 L299.6 187.4" class="hw" stroke-width="4.6" stroke-linecap="butt"/>
<path d="M312 192 Q318 193.6 322 199 Q324.6 203 324.2 208 V215.4" class="hb" stroke-width="4.2" stroke-linecap="butt"/><path d="M312 192 Q318 193.6 322 199 Q324.6 203 324.2 208 V215.4" class="hw" stroke-width="1.0" stroke-linecap="butt"/>
<ellipse cx="324.2" cy="215.6" rx="1.8" ry="1.4" class="o"/>
<path d="M300 188.6 Q311.6 190 312 199 V208.4" class="hb" stroke-width="9.8" stroke-linecap="butt"/><path d="M300 188.6 Q311.6 190 312 199 V208.4" class="hw" stroke-width="6.6" stroke-linecap="butt"/>
<ellipse cx="312.0" cy="208.4" rx="4.6" ry="2.6" class="o"/>
<path d="M307.4 204.6 a4.6 2.4 0 0 0 9.2 0" class="n"/>
<path d="M251.8 158 Q254 156.4 258 157 L268.6 156.2 Q275 156.6 274.8 159.4 Q274.6 162 268.6 162.6 L262.6 163.6 L263.2 170.8 L258.6 172 Q254 168 251.8 158z" class="o"/>
<ellipse cx="270.0" cy="159.2" rx="2.1" ry="1.4" class="o"/>
<path d="M258 157 Q262 163 263 170.6" class="n"/>
<path d="M296 185 Q298.4 183.4 302 184 L311 181.6 Q317.4 181.6 317.4 184.6 Q317 187 311 187.6 L305.6 188.6 L305.4 193.4 L301 194.4 Q297.6 190 296 185z" class="o"/>
<ellipse cx="312.3" cy="184.0" rx="2.1" ry="1.4" class="o"/>
<path d="M302 184 Q304.6 188 305 193.4" class="n"/>
<ellipse cx="309.4" cy="226.0" rx="5.6" ry="3.4" class="o"/>
<path d="M303.8 222 v4 a5.6 3.4 0 0 0 11.2 0 v-4" class="n"/>
<ellipse cx="309.4" cy="222.0" rx="5.6" ry="3.2" class="o"/>
<path d="M304.6 216 l3.4 4 M313.6 216.4 l-2.4 4 M308.6 217.6 h4" class="n"/>
<path d="M307 235.4 L305.4 254 Q303 266 294 274.6 Q290 278 282 282 Q270 287.6 270.4 294 Q271 298.6 277 302.6 L287.4 306" class="hb" stroke-width="10.4" stroke-linecap="butt"/><path d="M307 235.4 L305.4 254 Q303 266 294 274.6 Q290 278 282 282 Q270 287.6 270.4 294 Q271 298.6 277 302.6 L287.4 306" class="hw" stroke-width="7.2" stroke-linecap="butt"/>
<ellipse cx="307.0" cy="235.6" rx="4.8" ry="1.6" class="n" transform="rotate(4.0 307.0 235.6)"/>
<ellipse cx="286.8" cy="305.2" rx="2.6" ry="4.8" class="o" transform="rotate(-35.0 286.8 305.2)"/>
<path d="M287.8 303.4 a1.8 2.6 -35 1 0 0.6 3.4" class="n"/>
<ellipse cx="299.0" cy="310.0" rx="7.0" ry="7.6" class="o" transform="rotate(20.0 299.0 310.0)"/>
<ellipse cx="299.4" cy="310.6" rx="4.6" ry="5.2" class="n" transform="rotate(20.0 299.4 310.6)"/>
<path d="M293 303.4 l4.6 2 M297 301 l3.6 3.6 M302 301.6 l-1 4 M305.6 304 l-3.6 2.6 M296 308 v5 M301.6 307 v5" class="n"/>
<ellipse cx="230.6" cy="271.4" rx="5.2" ry="3.4" class="o"/>
<path d="M225.4 266.6 v4.8 a5.2 3.4 0 0 0 10.4 0 v-4.8" class="n"/>
<ellipse cx="230.6" cy="266.8" rx="5.2" ry="3.0" class="o"/>
<path d="M226.6 261 l2.6 4 M235 261.6 l-2.4 3.6 M230 262.6 h3.4" class="n"/>
<path d="M227.4 281.6 Q226.6 296 224.8 319" class="hb" stroke-width="9.0" stroke-linecap="round"/><path d="M227.4 281.6 Q226.6 296 224.8 319" class="hw" stroke-width="5.8" stroke-linecap="round"/>
<path d="M220.4 324.6 h11 v6 h-11z M220.4 327.6 h8 M229 323.6 q3 0.6 2.4 3 M229 329 q3 0 2.6 2.4" class="n"/>
<path d="M222 329 l3 1" class="n"/>
<path d="M241.4 349 L243.6 347 L248.6 346.8 L250 349 V353.6 L247.6 355.4 H243 L241.4 353.6z" class="o"/>
<path d="M241.4 349.6 H250 M245.6 349.8 V355" class="n"/>
<ellipse cx="245.6" cy="348.2" rx="2.0" ry="0.8" class="n"/>
<!-- r6.svg -->
<line x1="80.2" y1="306.6" x2="80.2" y2="331.6" class="ln"/>
<line x1="125.8" y1="325.4" x2="138.4" y2="325.4" class="ln"/>
<polyline points="126.0,329.0 137.0,334.2 105.6,343.2" class="d"/>
<polyline points="57.0,357.8 34.3,347.6 34.3,439.8 265.8,375.4" class="d"/>
<line x1="93.6" y1="402.9" x2="105.8" y2="402.9" class="ln"/>
<line x1="160.8" y1="380.8" x2="171.6" y2="380.8" class="ln"/>
<line x1="169.8" y1="405.6" x2="169.8" y2="431.6" class="ln"/>
<line x1="203.9" y1="425.0" x2="203.9" y2="445.4" class="ln"/>
<line x1="110.6" y1="451.2" x2="127.6" y2="451.2" class="ln"/>
<line x1="75.6" y1="496.0" x2="75.6" y2="509.0" class="ln"/>
<path d="M58.4 360.6 L67 366.6 Q75 370.4 81 366.6 L86 362" class="hb" stroke-width="7.0" stroke-linecap="butt"/><path d="M58.4 360.6 L67 366.6 Q75 370.4 81 366.6 L86 362" class="hw" stroke-width="3.8" stroke-linecap="butt"/>
<ellipse cx="58.4" cy="360.6" rx="2.0" ry="3.4" class="o" transform="rotate(-35.0 58.4 360.6)"/>
<path d="M65.6 340 Q67 333.6 74 332.6 L82.6 331.6 Q88 333 88.8 338 L88 350 Q84 355 76 354 L67.6 351.6z" class="o"/>
<path d="M60.6 340.6 L65 337 L70.8 339.4 L71 346 L66.4 349.6 L60.8 347.6z" class="o"/>
<path d="M65 337 L65.4 344 L60.8 347.4 M65.4 344 L70.8 346" class="n"/>
<path d="M71 336.6 Q76 338 76.6 345 Q76.6 351 72 353 M75 333 Q81 336 81.6 343 M64 350.6 Q66 357 72 358.6 L82 357.6" class="n"/>
<path d="M84 342 L88.6 335.6 L96 333 L100.4 336 L99.6 341 L92 345 L93.6 358 L88 358.6 L82.6 352z" class="o"/>
<path d="M88.6 335.6 L90.6 340 L99 337 M90.6 340 L88.6 346 M84.6 347 l5.6 8" class="n"/>
<path d="M82.6 352 l4 7 l2.6 -1.4 l-3.6 -7z" class="o"/>
<path d="M95.4 342 L100 340.6 L112 348.4 L119.8 362.4 L122.6 378 L117 383.4 L110 382 L99 380.4 L94 372 L91.4 362 L92 350z" class="o"/>
<path d="M97.6 345 Q102 343.6 105 347.6 Q108 352 104 354 Q99 355.6 97.4 350 M100 343.6 Q99 347 102.6 348.6" class="n"/>
<path d="M95 358 Q96 371 104 378 M117.6 360 Q121.6 369 120 377.6" class="n"/>
<ellipse cx="109.4" cy="365.0" rx="6.6" ry="8.0" class="o" transform="rotate(25.0 109.4 365.0)"/>
<ellipse cx="109.8" cy="365.4" rx="3.0" ry="5.2" class="n" transform="rotate(25.0 109.8 365.4)"/>
<ellipse cx="108.6" cy="364.6" rx="4.8" ry="6.6" class="n" transform="rotate(25.0 108.6 364.6)"/>
<ellipse cx="117.8" cy="378.4" rx="1.8" ry="1.8" class="o"/>
<path d="M90 366 L97 376 M86.6 358.6 l4 6" class="n"/>
<path d="M97 357 q3 -3 6.6 -0.6 M112.6 352 l4 7 M100.6 372.6 q3 4 8 4.6" class="n"/>
<path d="M100.6 381 L106.6 389.6" class="hb" stroke-width="6.2" stroke-linecap="butt"/><path d="M100.6 381 L106.6 389.6" class="hw" stroke-width="3.0" stroke-linecap="butt"/>
<ellipse cx="106.8" cy="389.8" rx="2.8" ry="1.4" class="n" transform="rotate(38.0 106.8 389.8)"/>
<ellipse cx="112.0" cy="401.4" rx="5.6" ry="6.2" class="o" transform="rotate(20.0 112.0 401.4)"/>
<ellipse cx="112.6" cy="401.6" rx="3.2" ry="3.8" class="n" transform="rotate(20.0 112.6 401.6)"/>
<path d="M105.6 400 l-3 0.6 M106.6 404.6 l-3.6 1.6 M108 407 l-1 2.6 M110.6 395 l3 -1 M106 398 l5 -3" class="n"/>
<path d="M134 368.6 Q134 365 139.8 364 L156.6 375 Q160 379 159.8 383.2 L160.8 399.8 Q160 404.6 155.6 404 L136.8 394 Q134.4 392 134 383z" class="o"/>
<ellipse cx="147.4" cy="384.8" rx="7.6" ry="10.4" class="o" transform="rotate(-12.0 147.4 384.8)"/>
<ellipse cx="138.6" cy="369.0" rx="1.9" ry="1.9" class="o"/>
<ellipse cx="156.2" cy="399.4" rx="1.9" ry="1.9" class="o"/>
<ellipse cx="175.6" cy="401.6" rx="9.2" ry="10.0" class="o" transform="rotate(10.0 175.6 401.6)"/>
<ellipse cx="177.4" cy="402.4" rx="4.8" ry="7.6" class="n" transform="rotate(25.0 177.4 402.4)"/>
<path d="M168 406 Q170 411.4 176 411.6" class="t"/>
<ellipse cx="198.6" cy="415.6" rx="9.4" ry="9.8" class="o" transform="rotate(10.0 198.6 415.6)"/>
<ellipse cx="201.8" cy="415.2" rx="4.6" ry="5.2" class="n"/>
<ellipse cx="201.8" cy="415.2" rx="6.6" ry="7.6" class="n"/>
<path d="M204.4 413 a2.6 3 0 1 0 0.4 4" class="n"/>
<path d="M190.4 419 q2 4 6 5.4" class="t"/>
<path d="M120 411.6 L131.6 436.6 Q133.4 441 133.2 447" class="hb" stroke-width="8.0" stroke-linecap="butt"/><path d="M120 411.6 L131.6 436.6 Q133.4 441 133.2 447" class="hw" stroke-width="4.8" stroke-linecap="butt"/>
<ellipse cx="120.0" cy="411.8" rx="3.4" ry="1.6" class="n" transform="rotate(-25.0 120.0 411.8)"/>
<path d="M133 477 V484 Q132.6 490 128.6 494.6 L120 503.4 Q112 510.6 103 505.4 L90.4 496.6" class="hb" stroke-width="8.4" stroke-linecap="round"/><path d="M133 477 V484 Q132.6 490 128.6 494.6 L120 503.4 Q112 510.6 103 505.4 L90.4 496.6" class="hw" stroke-width="5.2" stroke-linecap="round"/>
<path d="M127.8 447.6 h10.8 v29.8 h-10.8z" class="o"/>
<path d="M127.8 448.4 q5.4 2.4 10.8 0" class="t"/>
<ellipse cx="78.6" cy="488.6" rx="4.8" ry="5.6" class="o" transform="rotate(15.0 78.6 488.6)"/>
<ellipse cx="79.0" cy="489.0" rx="2.6" ry="3.4" class="n" transform="rotate(15.0 79.0 489.0)"/>
<path d="M73.6 482 l3.6 2.6 M78 480 l1 3.6 M82.6 481 l-1.6 3 M74 486 l-1.6 3 M75.4 493 l1 -3" class="n"/>
<!-- r7.svg -->
<line x1="247.6" y1="371.2" x2="260.0" y2="371.2" class="ln"/>
<line x1="228.6" y1="404.4" x2="246.0" y2="404.4" class="ln"/>
<line x1="246.8" y1="449.0" x2="263.4" y2="449.0" class="ln"/>
<line x1="241.8" y1="486.8" x2="254.4" y2="486.8" class="ln"/>
<line x1="356.6" y1="512.8" x2="367.8" y2="512.8" class="ln"/>
<polyline points="389.8,318.6 408.2,330.0 408.2,364.0" class="ln"/>
<polyline points="408.2,374.0 408.2,392.8 342.6,392.8 342.6,381.0" class="ln"/>
<line x1="374.0" y1="342.6" x2="374.0" y2="379.6" class="ln"/>
<line x1="374.0" y1="388.4" x2="374.0" y2="397.6" class="ln"/>
<line x1="328.2" y1="396.4" x2="328.2" y2="416.4" class="ln"/>
<polyline points="211.0,365.6 211.0,345.8 221.0,347.6" class="d"/>
<polyline points="229.0,351.0 245.0,361.4" class="d"/>
<line x1="245.0" y1="358.6" x2="245.0" y2="363.6" class="ln"/>
<path d="M202.6 368.2 L221 363 L224 365.6 L212.6 373.4z" class="o"/>
<ellipse cx="210.0" cy="368.6" rx="1.6" ry="0.9" class="o" transform="rotate(-15.0 210.0 368.6)"/>
<path d="M225.1 337 V406 Q225.4 412 228 418 L237.8 440.4" class="hb" stroke-width="7.2" stroke-linecap="butt"/><path d="M225.1 337 V406 Q225.4 412 228 418 L237.8 440.4" class="hw" stroke-width="4.0" stroke-linecap="butt"/>
<ellipse cx="225.1" cy="337.0" rx="3.3" ry="1.2" class="o"/>
<path d="M221.8 339.6 h6.6 M221.8 348.6 h6.6 M230.6 428 l5.4 -2.4 M231.8 430.4 l5.4 -2.4" class="n"/>
<ellipse cx="237.8" cy="440.2" rx="3.2" ry="1.4" class="o" transform="rotate(-20.0 237.8 440.2)"/>
<path d="M219.4 369 L224.6 366.4 L229.2 367.4 V381 L225 383.4 L219.4 380.6z" class="o"/>
<path d="M226.4 371 v7" class="t"/>
<path d="M242.6 369.4 a2.5 1 0 0 1 5 0 V387.4 a2.5 1 0 0 1 -5 0z" class="o"/>
<path d="M242.6 372 h5 M242.6 374.4 h5 M242.6 376.8 h5 M242.6 382 h5 M242.6 384.4 h5" class="n"/>
<ellipse cx="241.0" cy="451.0" rx="5.6" ry="4.8" class="o" transform="rotate(-10.0 241.0 451.0)"/>
<ellipse cx="242.0" cy="450.4" rx="3.0" ry="2.4" class="n" transform="rotate(-10.0 242.0 450.4)"/>
<path d="M236 449.6 l-4.6 -0.6 M235.6 452.6 l-4.6 1 M237 455 l-2.6 2.4 M240 456 v2.6 M232 451 h4" class="n"/>
<path d="M246.6 459.4 L256.6 481 Q260.6 489.6 270 493 L340 514.4" class="hb" stroke-width="8.6" stroke-linecap="butt"/><path d="M246.6 459.4 L256.6 481 Q260.6 489.6 270 493 L340 514.4" class="hw" stroke-width="5.4" stroke-linecap="butt"/>
<ellipse cx="246.6" cy="459.6" rx="3.6" ry="1.6" class="n" transform="rotate(-25.0 246.6 459.6)"/>
<ellipse cx="340.0" cy="514.4" rx="1.6" ry="3.6" class="o" transform="rotate(15.0 340.0 514.4)"/>
<ellipse cx="350.0" cy="517.4" rx="5.4" ry="5.4" class="o"/>
<ellipse cx="350.4" cy="517.8" rx="3.0" ry="3.2" class="n"/>
<path d="M346 510 l2.6 3 M350 508.6 v3.6 M354 509.6 l-2 3 M346.6 516 v4 M353 515.6 v4.4" class="n"/>
<path d="M344.8 351 L345.6 358.4 L340.2 364 L338.8 369.2 L336.8 375.4 L336.8 379.4 L340.2 381.4 L344.8 380.6 L345.6 378.6 L348.8 376.6 L353.6 372 L360.2 364 L362.2 357.2 L363.6 351.6 L360 349.6 L359 351z" class="o"/>
<path d="M344.2 342.4 L348.8 339.6 L359.4 341.6 L360.2 347 L359 351.2 L351 352.4 L344.8 350.6z" class="o"/>
<path d="M344.2 342.4 L350.4 344.4 L359.4 341.8 M350.4 344.4 L351 352.2 M346 346 v3" class="n"/>
<ellipse cx="356.8" cy="355.2" rx="3.2" ry="2.8" class="n" transform="rotate(-20.0 356.8 355.2)"/>
<ellipse cx="357.0" cy="355.2" rx="1.4" ry="1.2" class="k" transform="rotate(-20.0 357.0 355.2)"/>
<path d="M345.6 358.4 Q351 362.6 357 360 M343 361.6 Q350 367 360.2 364 M340.2 364 Q346 370 355.6 369.6 M338.8 369.2 Q343.6 375 353.4 372 M337.6 373 Q341.6 378 348.8 376.6 M336.8 376.4 Q340 380 345.4 378.6" class="n"/>
<path d="M366.4 333 L369.8 339.6 Q373 343.4 377.6 341 L380.6 335z" class="o"/>
<ellipse cx="374.6" cy="333.0" rx="6.0" ry="5.6" class="o"/>
<ellipse cx="375.4" cy="332.6" rx="3.2" ry="3.2" class="n"/>
<path d="M377 331.4 a1.8 1.8 0 1 0 0.2 2.4" class="n"/>
<ellipse cx="387.8" cy="316.4" rx="3.4" ry="2.5" class="o" transform="rotate(25.0 387.8 316.4)"/>
<path d="M323.6 390 L325.4 394 Q329 397.4 333 395 L335.4 390z" class="o"/>
<ellipse cx="329.4" cy="389.0" rx="5.8" ry="5.2" class="o"/>
<ellipse cx="330.0" cy="388.6" rx="3.0" ry="2.8" class="n"/>
<path d="M331.6 387.6 a1.7 1.7 0 1 0 0.2 2.2" class="n"/>
<!-- r8.svg -->
<line x1="485.0" y1="327.0" x2="504.0" y2="327.0" class="ln"/>
<line x1="484.0" y1="347.4" x2="496.6" y2="347.4" class="ln"/>
<line x1="486.6" y1="371.0" x2="503.4" y2="371.0" class="ln"/>
<polyline points="470.4,398.0 478.6,398.0 490.4,408.4" class="ln"/>
<line x1="447.6" y1="420.6" x2="516.6" y2="420.6" class="ln"/>
<polyline points="519.0,415.6 509.0,400.0 528.4,394.0" class="d"/>
<line x1="579.0" y1="315.4" x2="588.6" y2="315.4" class="ln"/>
<line x1="570.8" y1="344.0" x2="582.4" y2="344.0" class="ln"/>
<line x1="562.4" y1="374.6" x2="584.8" y2="374.6" class="ln"/>
<line x1="560.0" y1="393.0" x2="574.8" y2="393.0" class="ln"/>
<path d="M549 420.8 Q562 415.6 576.4 414.2" class="n"/>
<path d="M537.6 459 Q539 468.6 543 469.2 L552.4 469.4" class="n"/>
<line x1="532.6" y1="488.2" x2="542.6" y2="488.2" class="ln"/>
<line x1="422.6" y1="445.8" x2="428.4" y2="445.8" class="ln"/>
<line x1="436.6" y1="481.2" x2="465.0" y2="481.2" class="ln"/>
<line x1="502.3" y1="492.4" x2="502.3" y2="501.6" class="ln"/>
<polyline points="598.0,471.6 591.6,479.0 591.6,510.0" class="ln"/>
<line x1="685.2" y1="438.4" x2="685.2" y2="455.4" class="ln"/>
<line x1="668.4" y1="487.8" x2="683.0" y2="487.8" class="ln"/>
<line x1="690.0" y1="510.6" x2="705.6" y2="510.6" class="ln"/>
<line x1="707.4" y1="486.6" x2="710.6" y2="503.2" class="d"/>
<path d="M505.6 283 L506.6 333" class="hb" stroke-width="6.4" stroke-linecap="butt"/><path d="M505.6 283 L506.6 333" class="hw" stroke-width="3.2" stroke-linecap="butt"/>
<path d="M504.2 320 h4.8" class="n"/>
<path d="M504 332.6 h6 v6.4 a3 1 0 0 1 -6 0z" class="o"/>
<ellipse cx="505.6" cy="349.4" rx="5.6" ry="4.6" class="o"/>
<path d="M500 347 h-4.4 M500 350.4 h-4.4 M498 353.6 l-2 2 M503 345 v8 M507 345.6 v7 M501 352 h8" class="n"/>
<path d="M507 358.6 V374 Q506.6 384 503.4 392 L498.8 405.6" class="hb" stroke-width="8.8" stroke-linecap="butt"/><path d="M507 358.6 V374 Q506.6 384 503.4 392 L498.8 405.6" class="hw" stroke-width="5.6" stroke-linecap="butt"/>
<ellipse cx="507.0" cy="358.8" rx="4.0" ry="1.5" class="n"/>
<line x1="494.9" y1="404.3" x2="502.7" y2="406.9" class="n"/>
<ellipse cx="493.6" cy="412.6" rx="6.0" ry="4.8" class="o" transform="rotate(10.0 493.6 412.6)"/>
<path d="M488 410 l-4 -0.6 M488 413.4 l-4.6 1 M489.6 416.6 l-2.6 2.6 M491 408.6 v7 M496 409 v7 M490 415.6 h8" class="n"/>
<path d="M573.4 262 L575 276" class="hb" stroke-width="5.4" stroke-linecap="butt"/><path d="M573.4 262 L575 276" class="hw" stroke-width="2.2" stroke-linecap="butt"/>
<path d="M556 287 L544 287.6 Q535.6 289.6 535 299 L530.8 335 Q530.4 345.6 537.4 349.6 L551 357.4" class="hb" stroke-width="5.6" stroke-linecap="butt"/><path d="M556 287 L544 287.6 Q535.6 289.6 535 299 L530.8 335 Q530.4 345.6 537.4 349.6 L551 357.4" class="hw" stroke-width="2.4" stroke-linecap="butt"/>
<ellipse cx="559.8" cy="358.2" rx="7.6" ry="7.2" class="o" transform="rotate(15.0 559.8 358.2)"/>
<ellipse cx="560.6" cy="355.2" rx="4.6" ry="2.6" class="n" transform="rotate(10.0 560.6 355.2)"/>
<path d="M552.6 356 q1 6 7 8.6" class="t"/>
<path d="M553.2 281.6 L562.4 277.4 L568.6 278.4 L574.4 281.4 L575 290 L565.8 293.6 L559.6 291.6 L553.8 288.4z" class="o"/>
<path d="M562.4 277.4 L562.8 285.6 L553.8 288.2 M562.8 285.6 L565.8 293.4 M568.6 278.4 L568.4 292.4" class="n"/>
<ellipse cx="571.2" cy="285.8" rx="1.4" ry="1.9" class="o"/>
<ellipse cx="571.2" cy="285.8" rx="0.5" ry="0.8" class="k"/>
<path d="M564.4 310.6 L567.4 307 L574.6 307.2 L577.6 310.6 L576.8 316.4 L572.6 318 L565.6 317.2z" class="o"/>
<path d="M564.6 311 L570 312.6 L577.6 310.8 M570 312.6 L569.6 317.6" class="n"/>
<path d="M566.2 318 L573.8 318.6 L572 331.6 a3.3 1.1 0 0 1 -6.6 -0.6z" class="o"/>
<path d="M566 322 l7.4 0.6 M565.8 325 l7 0.6 M565.6 328 l6.8 0.6" class="n"/>
<ellipse cx="569.6" cy="323.4" rx="0.9" ry="1.4" class="k"/>
<ellipse cx="564.0" cy="343.6" rx="6.6" ry="4.0" class="o" transform="rotate(12.0 564.0 343.6)"/>
<ellipse cx="564.0" cy="342.4" rx="6.6" ry="4.0" class="o" transform="rotate(12.0 564.0 342.4)"/>
<ellipse cx="564.3" cy="342.2" rx="3.4" ry="2.0" class="n" transform="rotate(12.0 564.3 342.2)"/>
<ellipse cx="555.6" cy="373.2" rx="6.6" ry="4.2" class="o" transform="rotate(10.0 555.6 373.2)"/>
<ellipse cx="555.6" cy="372.0" rx="6.6" ry="4.2" class="o" transform="rotate(10.0 555.6 372.0)"/>
<ellipse cx="555.9" cy="371.8" rx="3.4" ry="2.1" class="n" transform="rotate(10.0 555.9 371.8)"/>
<ellipse cx="543.2" cy="422.6" rx="6.6" ry="4.0" class="o" transform="rotate(18.0 543.2 422.6)"/>
<ellipse cx="543.2" cy="421.4" rx="6.6" ry="4.0" class="o" transform="rotate(18.0 543.2 421.4)"/>
<ellipse cx="543.5" cy="421.2" rx="3.4" ry="2.0" class="n" transform="rotate(18.0 543.5 421.2)"/>
<ellipse cx="534.6" cy="455.6" rx="6.6" ry="4.2" class="o" transform="rotate(12.0 534.6 455.6)"/>
<ellipse cx="534.6" cy="454.4" rx="6.6" ry="4.2" class="o" transform="rotate(12.0 534.6 454.4)"/>
<ellipse cx="534.9" cy="454.2" rx="3.4" ry="2.1" class="n" transform="rotate(12.0 534.9 454.2)"/>
<path d="M529.6 385.4 L539 382.4 L541.6 391.6 L533.4 410.8 L527.2 409.8z" class="o"/>
<path d="M536 390.6 a1.7 1.9 0 1 0 0.2 2.6 M532.6 402.4 a1.7 1.9 0 1 0 0.2 2.6" class="n"/>
<path d="M527.4 385 l2.4 -2 l9.2 -0.6 M529.6 385.4 L527.4 385" class="n"/>
<path d="M540.6 378 L545.6 375 L548 380.6 L546.4 389 L541.6 391.6z" class="o"/>
<path d="M544.6 384 V404 Q545 408 548.6 409 L549 414.6 L553.4 416.4 L554 411.6 L560 409 V384z" class="o"/>
<ellipse cx="552.3" cy="384.0" rx="7.7" ry="3.9" class="o"/>
<ellipse cx="552.5" cy="384.0" rx="4.2" ry="2.1" class="n"/>
<path d="M544.6 391 a7.7 3.8 0 0 0 15.4 0 M544.6 399 a7.7 3.8 0 0 0 15.4 0 M544.6 403 a7.7 3.8 0 0 0 15.4 0" class="n"/>
<path d="M560 388 l2.6 1.6 v5 l-2.6 1.4 M540.6 404.6 L545 407 M540.6 404.6 V400 L544.6 398" class="n"/>
<path d="M428.4 446.4 Q427.6 443.6 430.4 441 L447.6 427.4 Q450.6 425.6 453.6 427.2 L468.4 436 Q471 438.2 470 441.6 L465.6 458.4 L451 471.4 Q448.6 473 446 470.6 L431.4 456.4 Q429 452 428.4 446.4z" class="o"/>
<path d="M429.6 451.6 Q430.4 455.6 433 458 L446.4 470.6" class="t"/>
<path d="M454.6 434 Q459.6 436 458.2 445 L455.4 459 Q453 465.6 449 464.6 Q445.4 462.6 446.6 452 L449.4 440 Q451.6 433.6 454.6 434z" class="o"/>
<path d="M452 437 Q449.4 447 449.4 462" class="t"/>
<path d="M440 447 a2.3 2.6 0 1 0 0.2 3.4 M466.6 439.4 a2.3 2.6 0 1 0 0.2 3.4" class="n"/>
<path d="M490.6 422 L484 442 Q482 448 484 452" class="hb" stroke-width="5.6" stroke-linecap="butt"/><path d="M490.6 422 L484 442 Q482 448 484 452" class="hw" stroke-width="2.4" stroke-linecap="butt"/>
<path d="M488.4 424 l4.6 1.2 M487.4 427 l4.6 1.2" class="n"/>
<ellipse cx="490.8" cy="421.8" rx="2.5" ry="1.0" class="n" transform="rotate(15.0 490.8 421.8)"/>
<path d="M458.2 463.6 L474.6 443.6 Q477 442 480 443.8 L496.6 455 Q500.6 460 499.8 466 L498 473.2 L485 478 Q479 487.6 471.6 486.8 Q467 486 464.6 480 Q460 472 458.2 463.6z" class="o"/>
<path d="M477 445.6 L462.6 463.6 Q464 472 467.6 478.6 Q470 481 474 479 L482.6 474 L493 474.6 L498 473.2" class="n"/>
<path d="M467.6 462 a2.3 2.6 0 1 0 0.2 3.4 M492 455 a1.9 2.2 0 1 0 0.2 2.8" class="n"/>
<path d="M472.6 461 L476.6 456 L477.6 462 L483.6 463.4 L477.6 464.8 L476.6 470z" class="n"/>
<path d="M486.4 452 L487 466 Q490 470.6 497 470 M481.6 474 V452" class="n"/>
<path d="M497 469.6 Q503 462 509 456.6 Q514 452.4 520 450 L533.4 445" class="hb" stroke-width="4.6" stroke-linecap="butt"/><path d="M497 469.6 Q503 462 509 456.6 Q514 452.4 520 450 L533.4 445" class="hw" stroke-width="1.4" stroke-linecap="butt"/>
<ellipse cx="533.4" cy="445.0" rx="1.0" ry="2.0" class="o" transform="rotate(-20.0 533.4 445.0)"/>
<path d="M518.6 449 l1.4 3.4 M521 448 l1.4 3.4" class="t"/>
<path d="M494.6 472.6 l6 -4.6 l1.6 1.6 l-5.6 5z" class="n"/>
<ellipse cx="502.6" cy="485.6" rx="7.0" ry="6.6" class="o"/>
<path d="M499.6 483 L505 481.6 L508 485.4 L505.6 490 L500.6 489.6z" class="n"/>
<ellipse cx="503.6" cy="485.8" rx="1.8" ry="1.8" class="n"/>
<path d="M526.6 466.6 a3.7 1.2 0 0 1 7.4 0.6 L532.6 482 L524.6 481.4z" class="o"/>
<path d="M526.4 470 l7.4 0.6 M526 473.6 l7.4 0.6" class="n"/>
<ellipse cx="529.6" cy="474.6" rx="0.9" ry="1.5" class="k"/>
<path d="M520.8 484 L524.4 480.8 L532.6 481.6 L533 488.6 L528.6 493 L521 491z" class="o"/>
<path d="M520.8 484 L527.6 486 L533 483 M527.6 486 L528 492.6" class="n"/>
<path d="M544.6 437.6 L553 442.4 Q557 444 561 442.4 L568.6 438.4" class="hb" stroke-width="5.2" stroke-linecap="butt"/><path d="M544.6 437.6 L553 442.4 Q557 444 561 442.4 L568.6 438.4" class="hw" stroke-width="2.0" stroke-linecap="butt"/>
<ellipse cx="539.1" cy="435.0" rx="7.6" ry="6.6" class="o" transform="rotate(10.0 539.1 435.0)"/>
<ellipse cx="538.4" cy="432.6" rx="4.2" ry="2.4" class="n" transform="rotate(5.0 538.4 432.6)"/>
<path d="M532 436 q2 5 8 5.6" class="t"/>
<path d="M589 432 Q607 428 623 431.4 Q640 436.6 654 448 Q668 459.6 688 461 Q698 461.4 707.4 459" class="hb" stroke-width="11.2" stroke-linecap="butt"/><path d="M589 432 Q607 428 623 431.4 Q640 436.6 654 448 Q668 459.6 688 461 Q698 461.4 707.4 459" class="hw" stroke-width="8.0" stroke-linecap="butt"/>
<path d="M567.6 435.4 L584 432.4 L585 440 L569 442.6z" class="o"/>
<path d="M571.6 434.8 l1 7.2 M574 434.4 l1 7.2 M577.6 433.6 l1 7.2 M580 433.2 l1 7.2" class="n"/>
<path d="M584 431 L590.6 427.6 L593.6 436.6 L585.6 441z" class="o"/>
<path d="M590 431 l2.4 6" class="t"/>
<ellipse cx="707.6" cy="459.0" rx="2.2" ry="5.2" class="o" transform="rotate(-12.0 707.6 459.0)"/>
<path d="M709.6 453.6 L725 451.6 L726.6 460.6 L711 463z" class="o"/>
<path d="M714 453 l1.4 9.2 M716.6 452.6 l1.4 9.2 M721 452.2 l1.4 8.8" class="n"/>
<path d="M723.4 448.6 L739.6 444.6 L741.6 458.6 L726 462.4 Q722.6 456 723.4 448.6z" class="o"/>
<path d="M726.6 448 Q724.6 455 727.6 462" class="n"/>
<path d="M739.6 445 L746 444 L749 448 L748.6 453.4 L745.6 456 L741.4 456z" class="o"/>
<path d="M746 444 L745.6 456" class="t"/>
<ellipse cx="610.0" cy="462.0" rx="11.6" ry="13.8" class="o" transform="rotate(-8.0 610.0 462.0)"/>
<ellipse cx="612.4" cy="461.6" rx="9.6" ry="12.6" class="n" transform="rotate(-8.0 612.4 461.6)"/>
<ellipse cx="608.0" cy="462.4" rx="9.2" ry="12.0" class="n" transform="rotate(-8.0 608.0 462.4)"/>
<path d="M604.8 447.6 L607 443.4 L614 443.6 L624.6 448.6 L623.6 452.6 L616 452z" class="o"/>
<path d="M607 443.4 L608.6 447.6 L616.4 451.6 M612 449 l8 1" class="n"/>
<path d="M683 478.6 Q684 474 690 473.4 L695.6 477 L702 473.6 L712.6 476.4 L713.2 481.4 L707.6 484 L702.6 483 L701.6 491 Q698 496.6 690.6 495 Q684.6 492 683.6 486z" class="o"/>
<path d="M690 473.4 Q687.6 480 689.6 487 Q691 492 695 493.6 M695.6 477 Q693.6 484 696 491.6 M702.6 483 L696 480.6" class="n"/>
<ellipse cx="706.6" cy="478.2" rx="1.8" ry="1.1" class="o" transform="rotate(-10.0 706.6 478.2)"/>
<g id="labels" font-size="9.2">
<text x="105.2" y="35.3" textLength="53.3" lengthAdjust="spacingAndGlyphs">91611-60840</text>
<text x="120.6" y="57.3" textLength="27.6" lengthAdjust="spacingAndGlyphs">22230</text>
<text x="62.0" y="73.0" textLength="33.0" lengthAdjust="spacingAndGlyphs">22230B</text>
<text x="143.0" y="73.7" textLength="34.0" lengthAdjust="spacingAndGlyphs">22230H</text>
<text x="90.0" y="91.8" textLength="33.5" lengthAdjust="spacingAndGlyphs">22230D</text>
<text x="164.0" y="92.0" textLength="33.5" lengthAdjust="spacingAndGlyphs">22230G</text>
<text x="187.5" y="77.3" textLength="33.5" lengthAdjust="spacingAndGlyphs">22230C</text>
<text x="23.3" y="117.8" textLength="33.7" lengthAdjust="spacingAndGlyphs">22270C</text>
<text x="110.3" y="142.9" textLength="33.3" lengthAdjust="spacingAndGlyphs">22230C</text>
<text x="126.0" y="156.3" textLength="33.4" lengthAdjust="spacingAndGlyphs">22230A</text>
<text x="52.0" y="190.5" textLength="33.7" lengthAdjust="spacingAndGlyphs">22230D</text>
<text x="29.3" y="206.1" textLength="32.1" lengthAdjust="spacingAndGlyphs">22270E</text>
<text x="100.0" y="214.5" textLength="34.0" lengthAdjust="spacingAndGlyphs">22210D</text>
<text x="313.3" y="29.3" textLength="27.1" lengthAdjust="spacingAndGlyphs">22210</text>
<text x="200.0" y="47.2" textLength="54.0" lengthAdjust="spacingAndGlyphs">93315-14014</text>
<text x="254.6" y="56.7" textLength="32.1" lengthAdjust="spacingAndGlyphs">Refer to</text>
<text x="254.6" y="66.0" textLength="47.7" lengthAdjust="spacingAndGlyphs">FIG. 84–04</text>
<text x="378.5" y="46.2" textLength="27.8" lengthAdjust="spacingAndGlyphs">22203</text>
<text x="462.2" y="31.3" textLength="53.6" lengthAdjust="spacingAndGlyphs">91611-40860</text>
<text x="399.5" y="59.9" textLength="53.9" lengthAdjust="spacingAndGlyphs">94115-40500</text>
<text x="478.0" y="74.5" textLength="27.3" lengthAdjust="spacingAndGlyphs">23293</text>
<text x="436.6" y="119.3" textLength="27.4" lengthAdjust="spacingAndGlyphs">23260</text>
<text x="602.3" y="42.9" textLength="33.7" lengthAdjust="spacingAndGlyphs">23801G</text>
<text x="602.8" y="68.6" textLength="32.8" lengthAdjust="spacingAndGlyphs">23801H</text>
<text x="601.5" y="85.5" textLength="27.1" lengthAdjust="spacingAndGlyphs">23902</text>
<text x="601.0" y="101.3" textLength="33.4" lengthAdjust="spacingAndGlyphs">23801H</text>
<text x="657.4" y="126.8" textLength="27.1" lengthAdjust="spacingAndGlyphs">23270</text>
<text x="199.8" y="174.3" textLength="33.8" lengthAdjust="spacingAndGlyphs">22230H</text>
<text x="350.0" y="160.0" textLength="27.0" lengthAdjust="spacingAndGlyphs">22271</text>
<text x="330.8" y="180.0" textLength="53.2" lengthAdjust="spacingAndGlyphs">91651-40612</text>
<text x="331.8" y="195.6" textLength="27.2" lengthAdjust="spacingAndGlyphs">22206</text>
<text x="248.0" y="221.8" textLength="32.0" lengthAdjust="spacingAndGlyphs">22210F</text>
<text x="478.5" y="144.2" textLength="32.5" lengthAdjust="spacingAndGlyphs">23260B</text>
<text x="478.5" y="168.5" textLength="32.5" lengthAdjust="spacingAndGlyphs">23260B</text>
<text x="499.8" y="188.0" textLength="33.2" lengthAdjust="spacingAndGlyphs">23260A</text>
<text x="386.0" y="202.3" textLength="32.5" lengthAdjust="spacingAndGlyphs">23280F</text>
<text x="447.0" y="210.1" textLength="53.3" lengthAdjust="spacingAndGlyphs">91651-60840</text>
<text x="422.6" y="232.1" textLength="30.8" lengthAdjust="spacingAndGlyphs">23280F</text>
<text x="657.4" y="145.9" textLength="52.2" lengthAdjust="spacingAndGlyphs">93381-16012</text>
<text x="656.2" y="165.5" textLength="32.6" lengthAdjust="spacingAndGlyphs">23270B</text>
<text x="655.7" y="188.0" textLength="31.8" lengthAdjust="spacingAndGlyphs">23807J</text>
<text x="664.4" y="220.6" textLength="52.4" lengthAdjust="spacingAndGlyphs">93319-13006</text>
<text x="742.6" y="219.9" textLength="27.1" lengthAdjust="spacingAndGlyphs">23807</text>
<text x="115.3" y="236.1" textLength="32.7" lengthAdjust="spacingAndGlyphs">22270E</text>
<text x="141.6" y="249.9" textLength="31.8" lengthAdjust="spacingAndGlyphs">22210F</text>
<text x="165.4" y="271.3" textLength="32.6" lengthAdjust="spacingAndGlyphs">22230N</text>
<text x="66.4" y="304.3" textLength="27.6" lengthAdjust="spacingAndGlyphs">22270</text>
<text x="139.0" y="327.6" textLength="53.5" lengthAdjust="spacingAndGlyphs">91611-60820</text>
<text x="176.7" y="310.1" textLength="34.8" lengthAdjust="spacingAndGlyphs">22230M</text>
<text x="249.0" y="237.3" textLength="33.0" lengthAdjust="spacingAndGlyphs">22270B</text>
<text x="335.8" y="232.9" textLength="26.9" lengthAdjust="spacingAndGlyphs">23280</text>
<text x="317.6" y="270.3" textLength="33.4" lengthAdjust="spacingAndGlyphs">22270A</text>
<text x="310.8" y="291.3" textLength="32.6" lengthAdjust="spacingAndGlyphs">22270B</text>
<text x="246.0" y="330.9" textLength="32.7" lengthAdjust="spacingAndGlyphs">22230N</text>
<text x="380.0" y="299.8" textLength="52.6" lengthAdjust="spacingAndGlyphs">90561-08018</text>
<text x="450.0" y="311.8" textLength="32.7" lengthAdjust="spacingAndGlyphs">23280D</text>
<text x="448.4" y="329.0" textLength="32.6" lengthAdjust="spacingAndGlyphs">23802B</text>
<text x="597.3" y="256.3" textLength="53.4" lengthAdjust="spacingAndGlyphs">91651-40612</text>
<text x="597.3" y="273.7" textLength="32.7" lengthAdjust="spacingAndGlyphs">23801P</text>
<text x="615.6" y="294.8" textLength="53.1" lengthAdjust="spacingAndGlyphs">91651-40816</text>
<text x="590.5" y="318.7" textLength="32.5" lengthAdjust="spacingAndGlyphs">23849C</text>
<text x="62.7" y="406.0" textLength="32.0" lengthAdjust="spacingAndGlyphs">22210E</text>
<text x="172.4" y="384.3" textLength="26.6" lengthAdjust="spacingAndGlyphs">22278</text>
<text x="144.0" y="440.5" textLength="50.2" lengthAdjust="spacingAndGlyphs">90210-26001</text>
<text x="257.4" y="352.2" textLength="53.9" lengthAdjust="spacingAndGlyphs">90179-08146</text>
<text x="260.7" y="374.3" textLength="53.1" lengthAdjust="spacingAndGlyphs">90116-08227</text>
<text x="246.9" y="408.0" textLength="27.3" lengthAdjust="spacingAndGlyphs">22205</text>
<text x="360.0" y="386.7" textLength="33.0" lengthAdjust="spacingAndGlyphs">23250C</text>
<text x="361.4" y="405.5" textLength="27.1" lengthAdjust="spacingAndGlyphs">23250</text>
<text x="316.3" y="423.1" textLength="25.7" lengthAdjust="spacingAndGlyphs">23291</text>
<text x="451.4" y="350.3" textLength="30.3" lengthAdjust="spacingAndGlyphs">23809F</text>
<text x="451.0" y="373.5" textLength="33.2" lengthAdjust="spacingAndGlyphs">23809H</text>
<text x="394.5" y="371.7" textLength="32.5" lengthAdjust="spacingAndGlyphs">23250B</text>
<text x="438.4" y="401.0" textLength="30.8" lengthAdjust="spacingAndGlyphs">23809F</text>
<text x="381.5" y="421.8" textLength="52.5" lengthAdjust="spacingAndGlyphs">91656-40825</text>
<text x="587.0" y="346.6" textLength="32.0" lengthAdjust="spacingAndGlyphs">23849B</text>
<text x="586.5" y="377.5" textLength="32.5" lengthAdjust="spacingAndGlyphs">23849B</text>
<text x="576.0" y="396.0" textLength="33.0" lengthAdjust="spacingAndGlyphs">23849A</text>
<text x="578.4" y="417.3" textLength="32.6" lengthAdjust="spacingAndGlyphs">23849B</text>
<text x="672.5" y="435.5" textLength="31.3" lengthAdjust="spacingAndGlyphs">23801F</text>
<text x="76.4" y="454.1" textLength="33.4" lengthAdjust="spacingAndGlyphs">22210C</text>
<text x="62.0" y="517.0" textLength="32.0" lengthAdjust="spacingAndGlyphs">22210E</text>
<text x="189.5" y="454.1" textLength="27.8" lengthAdjust="spacingAndGlyphs">25748</text>
<text x="265.0" y="452.3" textLength="33.3" lengthAdjust="spacingAndGlyphs">22230X</text>
<text x="202.3" y="489.3" textLength="36.7" lengthAdjust="spacingAndGlyphs">22230W</text>
<text x="369.0" y="516.8" textLength="32.5" lengthAdjust="spacingAndGlyphs">22230X</text>
<text x="385.5" y="448.3" textLength="32.3" lengthAdjust="spacingAndGlyphs">23809J</text>
<text x="408.3" y="483.7" textLength="27.1" lengthAdjust="spacingAndGlyphs">23809</text>
<text x="476.0" y="508.8" textLength="53.3" lengthAdjust="spacingAndGlyphs">90179-08017</text>
<text x="554.4" y="472.3" textLength="31.8" lengthAdjust="spacingAndGlyphs">23849B</text>
<text x="544.9" y="492.3" textLength="32.6" lengthAdjust="spacingAndGlyphs">23849C</text>
<text x="614.0" y="489.7" textLength="53.5" lengthAdjust="spacingAndGlyphs">90929-01130</text>
<text x="635.6" y="513.5" textLength="53.2" lengthAdjust="spacingAndGlyphs">91656-40616</text>
<text x="566.2" y="518.0" textLength="49.1" lengthAdjust="spacingAndGlyphs">90464-00312</text>
<text x="718.8" y="532.6" textLength="13.8" lengthAdjust="spacingAndGlyphs">MF</text>
<text x="735.9" y="532.6" textLength="26.8" lengthAdjust="spacingAndGlyphs">3828-A</text>
</g>
<g id="qty" font-size="7.8">
<text x="162.4" y="34.7" textLength="9.6" lengthAdjust="spacingAndGlyphs">(3)</text>
<text x="258.0" y="46.6" textLength="9.0" lengthAdjust="spacingAndGlyphs">(2)</text>
<text x="457.7" y="59.3" textLength="8.5" lengthAdjust="spacingAndGlyphs">(2)</text>
<text x="388.0" y="179.4" textLength="9.0" lengthAdjust="spacingAndGlyphs">(2)</text>
<text x="504.0" y="209.5" textLength="9.3" lengthAdjust="spacingAndGlyphs">(3)</text>
<text x="713.8" y="145.3" textLength="8.2" lengthAdjust="spacingAndGlyphs">(2)</text>
<text x="720.8" y="220.0" textLength="8.8" lengthAdjust="spacingAndGlyphs">(6)</text>
<text x="197.0" y="326.5" textLength="8.0" lengthAdjust="spacingAndGlyphs">(2)</text>
<text x="436.6" y="299.2" textLength="8.8" lengthAdjust="spacingAndGlyphs">(3)</text>
<text x="438.4" y="421.2" textLength="8.2" lengthAdjust="spacingAndGlyphs">(2)</text>
<text x="533.6" y="508.2" textLength="8.3" lengthAdjust="spacingAndGlyphs">(2)</text>
</g>
<g id="marks" font-size="9" text-anchor="middle">
<circle cx="187.8" cy="32.0" r="5.8" fill="#fff" stroke="#111" stroke-width="1.3"/><text x="187.8" y="35.3">B</text>
<circle cx="227.6" cy="86.2" r="5.8" fill="#fff" stroke="#111" stroke-width="1.3"/><text x="227.6" y="89.5">S</text>
<circle cx="489.2" cy="47.6" r="5.8" fill="#fff" stroke="#111" stroke-width="1.3"/><text x="489.2" y="50.9">B</text>
<circle cx="425.8" cy="79.7" r="5.8" fill="#fff" stroke="#111" stroke-width="1.3"/><text x="425.8" y="83.0">N</text>
<circle cx="311.3" cy="165.2" r="5.8" fill="#fff" stroke="#111" stroke-width="1.3"/><text x="311.3" y="168.5">B</text>
<circle cx="429.0" cy="207.3" r="5.8" fill="#fff" stroke="#111" stroke-width="1.3"/><text x="429.0" y="210.6">B</text>
<circle cx="594.8" cy="143.1" r="5.8" fill="#fff" stroke="#111" stroke-width="1.3"/><text x="594.8" y="146.4">S</text>
<circle cx="645.4" cy="216.0" r="5.8" fill="#fff" stroke="#111" stroke-width="1.3"/><text x="645.4" y="219.3">S</text>
<circle cx="120.3" cy="325.3" r="5.8" fill="#fff" stroke="#111" stroke-width="1.3"/><text x="120.3" y="328.6">B</text>
<circle cx="527.3" cy="274.7" r="5.8" fill="#fff" stroke="#111" stroke-width="1.3"/><text x="527.3" y="278.0">B</text>
<circle cx="596.5" cy="291.7" r="5.8" fill="#fff" stroke="#111" stroke-width="1.3"/><text x="596.5" y="295.0">B</text>
<circle cx="522.3" cy="420.3" r="5.8" fill="#fff" stroke="#111" stroke-width="1.3"/><text x="522.3" y="423.6">B</text>
<circle cx="710.8" cy="510.7" r="5.8" fill="#fff" stroke="#111" stroke-width="1.3"/><text x="710.8" y="514.0">B</text>
</g>
</svg>
</body></html>
